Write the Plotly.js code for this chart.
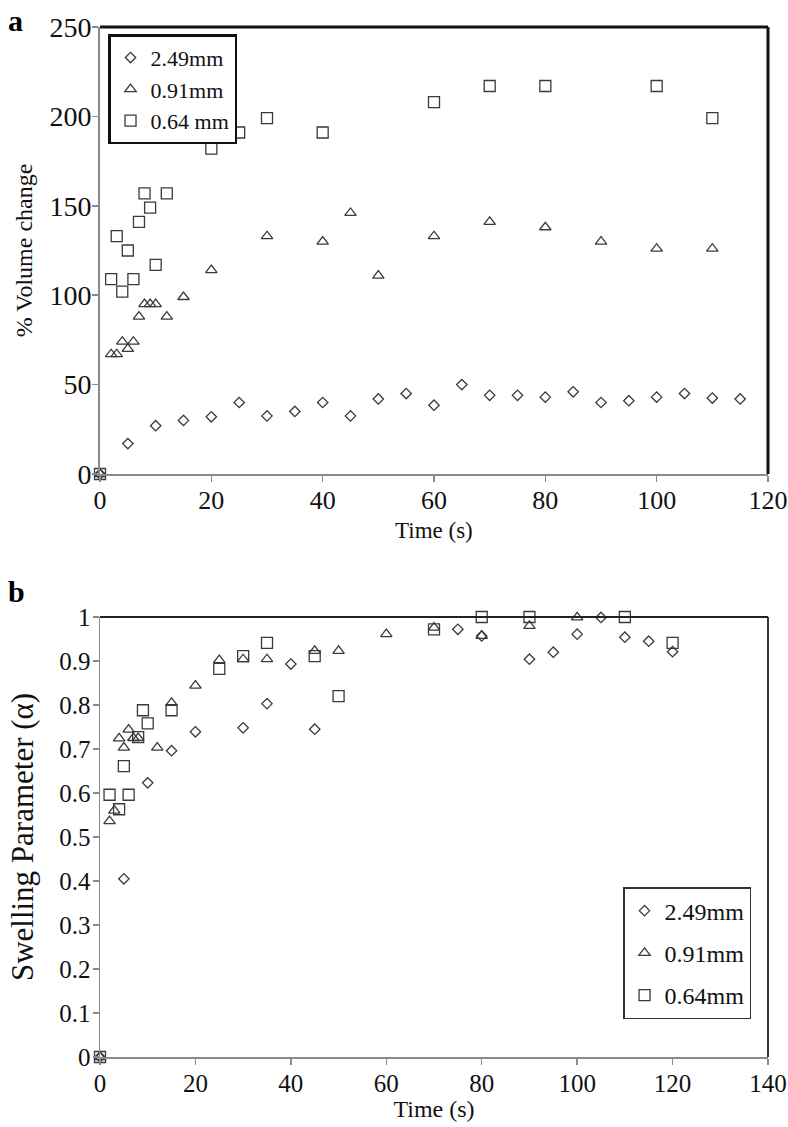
<!DOCTYPE html>
<html>
<head>
<meta charset="utf-8">
<script src="https://cdn.plot.ly/plotly-3.0.1.min.js"></script>
<style>
  html, body { margin: 0; padding: 0; background: #fff; }
  #chart { width: 788px; height: 1127px; }
</style>
</head>
<body>
<div id="chart"></div>
<script>
// Panel a: % volume change vs time
const a_names = ['2.49mm', '0.91mm', '0.64 mm'];
const a_t249 = [0, 5, 10, 15, 20, 25, 30, 35, 40, 45, 50, 55, 60, 65, 70, 75, 80, 85, 90, 95, 100, 105, 110, 115];
const a_v249 = [0, 17, 27, 30, 32, 40, 32.5, 35, 40, 32.5, 42, 45, 38.5, 50, 44, 44, 43, 46, 40, 41, 43, 45, 42.5, 42];
const a_t091 = [0, 2, 3, 4, 5, 6, 7, 8, 9, 10, 12, 15, 20, 30, 40, 45, 50, 60, 70, 80, 90, 100, 110];
const a_v091 = [0, 67, 67, 74, 70, 74, 88, 95, 95, 95, 88, 99, 114, 133, 130, 146, 111, 133, 141, 138, 130, 126, 126];
const a_t064 = [0, 2, 3, 4, 5, 6, 7, 8, 9, 10, 12, 20, 25, 30, 40, 60, 70, 80, 100, 110];
const a_v064 = [0, 109, 133, 102, 125, 109, 141, 157, 149, 117, 157, 182, 191, 199, 191, 208, 217, 217, 217, 199];

// Panel b: swelling parameter vs time
const b_names = ['2.49mm', '0.91mm', '0.64mm'];
const b_t249 = [0, 5, 10, 15, 20, 30, 35, 40, 45, 75, 80, 90, 95, 100, 105, 110, 115, 120];
const b_v249 = [0, 0.405, 0.623, 0.696, 0.739, 0.748, 0.803, 0.893, 0.745, 0.972, 0.957, 0.904, 0.920, 0.961, 0.999, 0.954, 0.945, 0.921];
const b_t091 = [0, 2, 3, 4, 5, 6, 7, 8, 12, 15, 20, 25, 30, 35, 45, 50, 60, 70, 80, 90, 100];
const b_v091 = [0, 0.536, 0.560, 0.724, 0.703, 0.744, 0.725, 0.725, 0.703, 0.805, 0.844, 0.902, 0.904, 0.904, 0.923, 0.923, 0.961, 0.976, 0.957, 0.980, 0.999];
const b_t064 = [0, 2, 4, 5, 6, 8, 9, 10, 15, 25, 30, 35, 45, 50, 70, 80, 90, 110, 120];
const b_v064 = [0, 0.596, 0.563, 0.661, 0.596, 0.727, 0.788, 0.758, 0.788, 0.882, 0.911, 0.941, 0.911, 0.820, 0.972, 1.0, 1.0, 1.0, 0.941];

const symbols = ['diamond-open', 'triangle-up-open', 'square-open'];
const sizes = [8, 10, 11];
const markColor = '#3a3a3a';
const serif = '"Liberation Serif", "DejaVu Serif", serif';

function pts(x, y, name, i, xa, ya, legend) {
  return {
    x, y, name,
    type: 'scatter',
    mode: 'markers',
    xaxis: xa, yaxis: ya,
    legend: legend,
    legendgroup: legend + i,
    cliponaxis: false,
    marker: { symbol: symbols[i], size: sizes[i], color: markColor, line: { width: 1.3, color: markColor } }
  };
}

const traces = [
  pts(a_t249, a_v249, a_names[0], 0, 'x', 'y', 'legend'),
  pts(a_t091, a_v091, a_names[1], 1, 'x', 'y', 'legend'),
  pts(a_t064, a_v064, a_names[2], 2, 'x', 'y', 'legend'),
  pts(b_t249, b_v249, b_names[0], 0, 'x2', 'y2', 'legend2'),
  pts(b_t091, b_v091, b_names[1], 1, 'x2', 'y2', 'legend2'),
  pts(b_t064, b_v064, b_names[2], 2, 'x2', 'y2', 'legend2')
];

const axisBase = {
  showgrid: false, zeroline: false,
  showline: true, linecolor: '#8a8a8a', linewidth: 2,
  ticks: 'outside', ticklen: 6, tickwidth: 1.5, tickcolor: '#8a8a8a',
  tickfont: { family: serif, size: 28, color: '#111' },
  ticklabeloverflow: 'allow'
};

const layout = {
  width: 788, height: 1127,
  margin: { l: 100, r: 20, t: 27, b: 70 },
  paper_bgcolor: '#fff', plot_bgcolor: '#fff',
  font: { family: serif, color: '#111' },
  showlegend: true,
  xaxis: Object.assign({}, axisBase, {
    domain: [0, 1], anchor: 'y', range: [0, 120], dtick: 20, ticklabelstandoff: -4,
    tickfont: { family: serif, size: 26, color: '#111' }
  }),
  yaxis: Object.assign({}, axisBase, {
    domain: [0.566, 1], anchor: 'x', range: [0, 250], dtick: 50, ticklabelstandoff: -5,
    title: { text: '% Volume change', font: { family: serif, size: 24 }, standoff: 10 }
  }),
  xaxis2: Object.assign({}, axisBase, {
    domain: [0, 1], anchor: 'y2', range: [0, 140], dtick: 20, ticklabelstandoff: -3,
    linewidth: 1.5,
    tickfont: { family: serif, size: 25, color: '#111' },
    title: { text: 'Time (s)', font: { family: serif, size: 24 }, standoff: 0 }
  }),
  yaxis2: Object.assign({}, axisBase, {
    domain: [0, 0.4272], anchor: 'x2', range: [0, 1], dtick: 0.1, ticklabelstandoff: -3,
    linewidth: 1.5,
    tickfont: { family: serif, size: 25, color: '#111' },
    title: { text: 'Swelling Parameter (α)', font: { family: serif, size: 31 }, standoff: 16 }
  }),
  legend: {
    x: 0.012, y: 0.993, xanchor: 'left', yanchor: 'top',
    bordercolor: '#111', borderwidth: 2.5, bgcolor: '#fff',
    font: { family: serif, size: 22, color: '#111' },
    itemwidth: 30, tracegroupgap: 0
  },
  legend2: {
    x: 0.783, y: 0.165, xanchor: 'left', yanchor: 'top',
    bordercolor: '#333', borderwidth: 1.5, bgcolor: '#fff',
    font: { family: serif, size: 24, color: '#111' },
    itemwidth: 30, tracegroupgap: 8
  },
  shapes: [
    // black top and right frame lines
    { type: 'line', xref: 'x domain', yref: 'y domain', x0: 0, x1: 1, y0: 1, y1: 1, line: { color: '#111', width: 3 } },
    { type: 'line', xref: 'x domain', yref: 'y domain', x0: 1, x1: 1, y0: 0, y1: 1, line: { color: '#111', width: 3 } },
    { type: 'line', xref: 'x2 domain', yref: 'y2 domain', x0: 0, x1: 1, y0: 1, y1: 1, line: { color: '#222', width: 1.8 } },
    { type: 'line', xref: 'x2 domain', yref: 'y2 domain', x0: 1, x1: 1, y0: 0, y1: 1, line: { color: '#222', width: 1.8 } }
  ],
  annotations: [
    // x title of panel a sits close under its tick labels
    { text: 'Time (s)', xref: 'x domain', yref: 'y domain', x: 0.5, y: -0.127, xanchor: 'center', yanchor: 'middle', showarrow: false, font: { family: serif, size: 23, color: '#111' } },
    { text: '<b>a</b>', xref: 'paper', yref: 'paper', x: -0.141, y: 1.024, xanchor: 'left', yanchor: 'top', showarrow: false, font: { family: serif, size: 30, color: '#000' } },
    { text: '<b>b</b>', xref: 'paper', yref: 'paper', x: -0.141, y: 0.47, xanchor: 'left', yanchor: 'top', showarrow: false, font: { family: serif, size: 30, color: '#000' } }
  ]
};

Plotly.newPlot('chart', traces, layout, { displayModeBar: false, staticPlot: true });
</script>
</body>
</html>
